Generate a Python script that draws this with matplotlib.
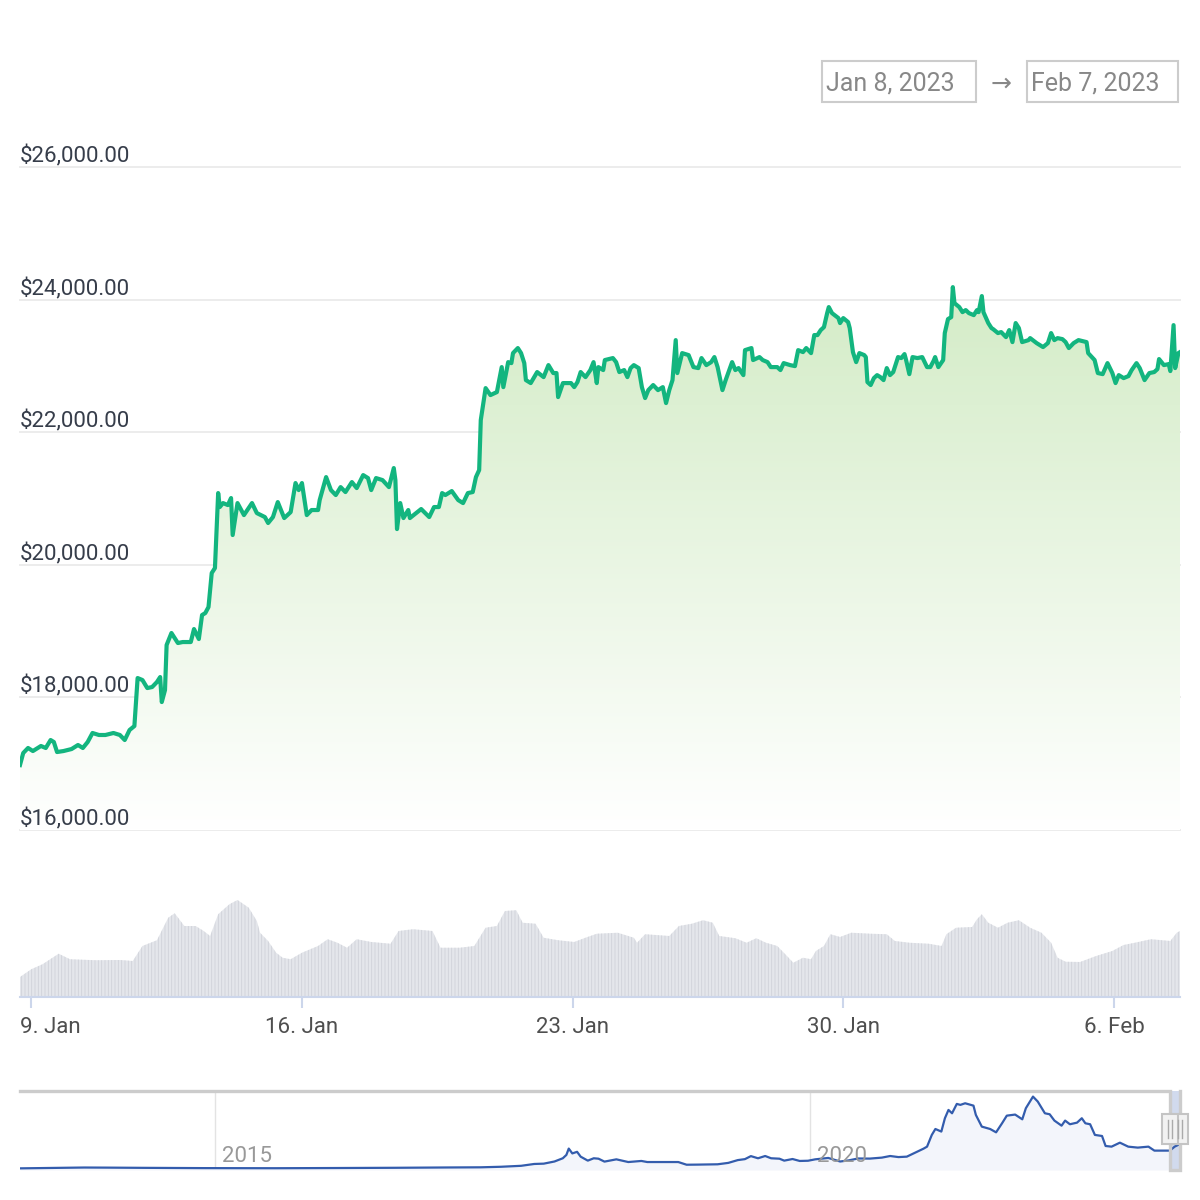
import numpy as np
import matplotlib
matplotlib.use('Agg')
import matplotlib.pyplot as plt
import matplotlib.dates as mdates
import matplotlib.transforms as mtransforms
from matplotlib.patches import Rectangle, Polygon
from datetime import datetime

plt.rcParams['font.family'] = ['Roboto', 'DejaVu Sans']
plt.rcParams['hatch.linewidth'] = 0.6

# hourly BTC price, hours counted from 2023-01-08 00:00
price_hours = [17, 19, 22, 25, 30, 33, 36, 38, 40, 44, 49, 53, 56, 59, 62, 66, 70, 75, 79, 82,
               85, 88, 90, 93, 96, 99, 102, 104, 105, 107, 108, 111, 115, 118, 123, 125, 128, 130, 132, 134,
               136, 138, 140, 141, 143, 146, 148, 149, 152, 156, 161, 164, 169, 171, 174, 177, 181, 185, 188, 190,
               192, 195, 198, 202, 203, 207, 210, 213, 216, 219, 223, 226, 230, 233, 235, 238, 242, 246, 249, 250,
               251, 253, 255, 258, 259, 266, 271, 274, 277, 279, 281, 285, 289, 292, 295, 298, 300, 302, 303, 306,
               309, 313, 316, 317, 320, 322, 323, 326, 328, 330, 331, 334, 338, 342, 345, 348, 350, 351, 354, 359,
               361, 363, 365, 368, 371, 373, 375, 376, 379, 380, 385, 387, 389, 392, 394, 396, 398, 401, 403, 405,
               407, 410, 413, 416, 418, 420, 422, 424, 425, 428, 432, 435, 438, 440, 443, 446, 448, 450, 453, 455,
               459, 461, 463, 466, 467, 471, 472, 476, 478, 481, 483, 487, 489, 491, 495, 498, 500, 503, 505, 508,
               510, 512, 514, 516, 518, 519, 521, 525, 526, 528, 531, 532, 534, 536, 538, 541, 542, 543, 545, 547,
               549, 551, 553, 555, 557, 559, 562, 564, 566, 567, 569, 571, 574, 577, 580, 582, 584, 585, 587, 590,
               591, 593, 595, 596, 597, 600, 602, 604, 606, 609, 611, 612, 614, 615, 618, 620, 621, 624, 626, 629,
               631, 633, 635, 637, 639, 643, 644, 648, 652, 655, 657, 659, 661, 664, 666, 668, 671, 674, 679, 680,
               684, 686, 689, 692, 695, 697, 699, 702, 705, 707, 710, 712, 715, 718, 721, 723, 724, 727, 730, 731,
               733, 734, 736, 737]
price = [16980, 17161, 17237, 17191, 17267, 17237, 17357, 17327, 17176, 17191, 17221, 17282, 17237, 17327, 17463, 17433, 17433, 17463, 17433, 17357,
         17508, 17568, 18292, 18262, 18141, 18156, 18232, 18307, 17930, 18111, 18790, 18971, 18820, 18835, 18835, 19031, 18880, 19242, 19272, 19363,
         19876, 19951, 21082, 20871, 20931, 20901, 21007, 20449, 20931, 20750, 20931, 20780, 20720, 20630, 20720, 20946, 20705, 20795, 21233, 21127,
         21233, 20750, 20826, 20826, 20976, 21323, 21127, 21052, 21172, 21097, 21248, 21157, 21353, 21308, 21127, 21308, 21278, 21172, 21459, 21278,
         20539, 20931, 20705, 20826, 20705, 20841, 20720, 20871, 20871, 21082, 21052, 21112, 20976, 20931, 21082, 21097, 21323, 21429, 22183, 22665,
         22560, 22605, 22982, 22680, 23057, 23042, 23193, 23269, 23193, 23042, 22786, 22741, 22907, 22831, 23012, 22892, 22892, 22530, 22741, 22741,
         22680, 22756, 22907, 22831, 22937, 23057, 22741, 22982, 22937, 23088, 23118, 23057, 22907, 22937, 22831, 22967, 23012, 22967, 22680, 22515,
         22635, 22711, 22635, 22680, 22439, 22635, 22786, 23389, 22892, 23193, 23163, 22982, 22967, 23118, 23012, 23057, 23133, 22982, 22635, 22786,
         23057, 22937, 22967, 22861, 23238, 23269, 23088, 23133, 23088, 23057, 22982, 22982, 22937, 23042, 23012, 22997, 23238, 23208, 23269, 23193,
         23465, 23465, 23540, 23585, 23796, 23887, 23796, 23721, 23646, 23721, 23661, 23570, 23208, 23057, 23193, 23163, 23133, 22756, 22711, 22816,
         22861, 22831, 22786, 22967, 22861, 22907, 23133, 23118, 23178, 23088, 22876, 23133, 23118, 23133, 22982, 22982, 23073, 23133, 22982, 23088,
         23495, 23706, 23736, 24188, 23947, 23887, 23811, 23842, 23796, 23766, 23842, 23811, 24053, 23811, 23646, 23570, 23555, 23495, 23510, 23434,
         23540, 23359, 23646, 23570, 23359, 23389, 23419, 23344, 23284, 23344, 23495, 23389, 23419, 23404, 23359, 23269, 23344, 23389, 23359, 23193,
         23088, 22892, 22876, 23042, 22892, 22741, 22861, 22816, 22846, 22937, 23042, 22967, 22786, 22892, 22907, 22952, 23103, 23012, 23027, 22922,
         23615, 22967, 23193, 23208]

# 24h volume (billion USD)
vol_hours = [17, 24, 31, 41, 48, 64, 79, 87, 93, 102, 109, 113, 119, 126, 131, 135, 140, 147, 152, 159,
             164, 166, 171, 176, 180, 185, 192, 202, 208, 214, 220, 226, 235, 247, 252, 261, 273, 278, 290, 299,
             306, 313, 318, 325, 329, 337, 342, 351, 361, 368, 375, 388, 398, 400, 405, 420, 426, 434, 441, 447,
             451, 461, 468, 474, 480, 487, 492, 497, 503, 508, 511, 516, 520, 526, 533, 545, 555, 560, 569, 581,
             589, 592, 598, 608, 611, 614, 618, 624, 630, 637, 644, 651, 657, 661, 666, 675, 685, 695, 702, 709,
             719, 731, 735, 737]
volume = [8.0, 11.1, 13.1, 17.3, 15.1, 14.7, 14.8, 14.4, 20.4, 22.7, 31.7, 33.5, 28.4, 28.4, 26.4, 24.4, 33.1, 37.1, 38.8, 35.7,
          30.4, 25.7, 22.4, 17.7, 15.7, 15.1, 17.7, 20.4, 23.1, 21.7, 19.7, 23.1, 22.0, 21.3, 26.4, 27.1, 26.4, 19.7, 19.7, 20.4,
          27.7, 28.4, 34.4, 34.7, 29.7, 29.3, 23.7, 22.7, 22.0, 23.7, 25.3, 25.7, 23.7, 21.7, 25.1, 24.4, 28.4, 29.3, 30.7, 29.7,
          24.4, 23.5, 21.7, 23.5, 21.7, 20.4, 17.1, 13.7, 15.7, 15.1, 18.4, 20.4, 25.1, 24.0, 25.7, 25.3, 25.1, 22.4, 21.7, 21.3,
          20.4, 25.1, 27.7, 28.0, 31.1, 33.1, 29.7, 27.7, 29.7, 30.7, 27.7, 25.7, 21.7, 15.7, 14.1, 14.0, 16.4, 18.4, 20.8, 21.7,
          23.1, 22.4, 25.7, 26.4]

# navigator: full history (decimal year, USD)
nav_year = [2013.36, 2013.9, 2014.1, 2014.4, 2014.9, 2015.5, 2016.0, 2016.5, 2016.95, 2017.23,
            2017.40, 2017.57, 2017.68, 2017.76, 2017.85, 2017.92, 2017.95, 2017.97, 2018.00, 2018.04,
            2018.07, 2018.13, 2018.18, 2018.22, 2018.27, 2018.37, 2018.47, 2018.58, 2018.63, 2018.89,
            2018.96, 2019.05, 2019.22, 2019.31, 2019.39, 2019.45, 2019.50, 2019.56, 2019.62, 2019.67,
            2019.74, 2019.78, 2019.85, 2019.91, 2019.98, 2020.04, 2020.15, 2020.25, 2020.32, 2020.40,
            2020.50, 2020.60, 2020.67, 2020.74, 2020.81, 2020.88, 2020.95, 2020.98, 2021.02, 2021.05,
            2021.10, 2021.13, 2021.16, 2021.19, 2021.23, 2021.26, 2021.30, 2021.37, 2021.39, 2021.44,
            2021.51, 2021.56, 2021.61, 2021.65, 2021.72, 2021.78, 2021.81, 2021.87, 2021.91, 2021.97,
            2022.01, 2022.05, 2022.11, 2022.14, 2022.18, 2022.24, 2022.28, 2022.31, 2022.35, 2022.39,
            2022.45, 2022.48, 2022.53, 2022.60, 2022.67, 2022.75, 2022.84, 2022.89, 2022.98, 2023.02,
            2023.06, 2023.09, 2023.105]
nav_price = [130, 900, 800, 600, 350, 250, 430, 650, 950, 1100,
             1600, 2500, 4200, 4500, 6500, 9500, 12600, 18500, 14000, 15500,
             11000, 7300, 9500, 9100, 6400, 8500, 6000, 7000, 6000, 6000,
             3500, 3600, 3900, 5200, 7800, 8700, 11500, 9500, 11600, 9500,
             9100, 7300, 8800, 7000, 7200, 8500, 9800, 6500, 7500, 9300,
             9200, 10100, 11600, 10600, 11000, 14700, 18400, 20300, 31200, 36700,
             34300, 46700, 54400, 51300, 60000, 59100, 60600, 58400, 49800, 38900,
             36700, 33600, 42000, 49100, 50100, 45700, 56000, 66800, 62200, 51300,
             50400, 44500, 39800, 44500, 41100, 42600, 46700, 42000, 41100, 31200,
             30200, 20900, 20300, 24000, 20300, 19400, 20300, 16600, 16600, 16600,
             20300, 21900, 23000]

price_ticks = [16000, 18000, 20000, 22000, 24000, 26000]
date_ticks = [datetime(2023, 1, 9), datetime(2023, 1, 16), datetime(2023, 1, 23),
              datetime(2023, 1, 30), datetime(2023, 2, 6)]
nav_ticks = [2015, 2020]
range_from, range_to = 'Jan 8, 2023', 'Feb 7, 2023'

W = H = 1200


def box(x0, y0, x1, y1):
    # pixel box (top-left origin) -> figure fraction rect
    return [x0 / W, 1 - y1 / H, (x1 - x0) / W, (y1 - y0) / H]


fig = plt.figure(figsize=(12, 12), dpi=100)

base = mdates.date2num(datetime(2023, 1, 8))
xp = base + np.array(price_hours) / 24.0
xv = base + np.array(vol_hours) / 24.0
xt = mdates.date2num(date_ticks)

# ---- price pane
ax = fig.add_axes(box(20, 167, 1180, 830))
ax.set_axis_off()
pmax = max(price)
top = np.array([0.83, 0.925, 0.78])
g = np.linspace(0, 1, 256)[:, None, None]
grad = 1 - g * (1 - top)[None, None, :]
img = ax.imshow(grad, extent=[xp[0], xp[-1], price_ticks[0], pmax],
                origin='lower', aspect='auto', zorder=1, interpolation='bilinear')
verts = list(zip(xp, price)) + [(xp[-1], price_ticks[0]), (xp[0], price_ticks[0])]
clip = Polygon(verts, closed=True, facecolor='none', edgecolor='none', transform=ax.transData)
ax.add_patch(clip)
img.set_clip_path(clip)
ax.plot(xp, price, color='#13b57f', lw=3.0, solid_joinstyle='round', zorder=3)
ax.set_xlim(xp[0], xp[-1])
ax.set_ylim(price_ticks[0], price_ticks[-1])
lbl_tr = mtransforms.offset_copy(ax.get_yaxis_transform(), fig=fig, y=4.5, units='dots')
for v in price_ticks:
    ax.axhline(v, color='#ececec', lw=1.4, zorder=0.5, clip_on=False)
    ax.text(0, v, f'${v:,.2f}', transform=lbl_tr, ha='left', va='baseline',
            fontsize=16, color='#363d4a')

# ---- volume pane
axv = fig.add_axes(box(20, 850, 1180, 997))
axv.fill_between(xv, volume, 0, facecolor='#e4e6eb', edgecolor='#cfd2d9',
                 hatch='|||||', linewidth=0)
axv.set_xlim(xp[0], xp[-1])
axv.set_ylim(0, 58.8)
for s in ['top', 'left', 'right']:
    axv.spines[s].set_visible(False)
axv.spines['bottom'].set_color('#ccd6eb')
axv.spines['bottom'].set_linewidth(1.5)
axv.set_yticks([])
axv.set_xticks(xt)
axv.set_xticklabels([])
axv.tick_params(axis='x', length=8, width=1.5, color='#ccd6eb')
axv.set_facecolor('none')
tick_tr = mtransforms.offset_copy(axv.get_xaxis_transform(), fig=fig, y=-36, units='dots')
for i, (d, x) in enumerate(zip(date_ticks, xt)):
    lab = f'{d.day}. {d.strftime("%b")}'
    if i == 0:
        axv.text(0, 0, lab, transform=mtransforms.offset_copy(axv.transAxes, fig=fig, y=-36, units='dots'),
                 ha='left', va='baseline', fontsize=16, color='#4f4f4f')
    else:
        axv.text(x, 0, lab, transform=tick_tr, ha='center', va='baseline', fontsize=16, color='#4f4f4f')

# ---- navigator
axn = fig.add_axes(box(20, 1091, 1180, 1170))
axn.set_xlim(2013.36, nav_year[-1])
axn.set_ylim(-1400, 72000)
axn.set_axis_off()
axn.fill_between(nav_year, nav_price, -1400, color='#f3f5fb', lw=0, zorder=1)
for yr in nav_ticks:
    axn.axvline(yr, color='#e3e3e3', lw=1, zorder=0.5)
    axn.text(yr, 0, str(yr), transform=mtransforms.offset_copy(axn.get_xaxis_transform(), fig=fig,
                                                                  x=7, y=8, units='dots'),
             ha='left', va='baseline', fontsize=16, color='#999999', zorder=4)
sel0 = 2023 + 7.7 / 365
sel1 = nav_year[-1]
axn.axvspan(sel0, sel1, color='#d1daed', lw=0, zorder=1.5)
axn.plot(nav_year, nav_price, color='#335cad', lw=1.6, zorder=3)
ox = [2013.36, sel0, sel0, sel1, sel1]
oy = [72000, 72000, -1400, -1400, 72000]
axn.plot(ox, oy, color='#cccccc', lw=2.4, zorder=4, clip_on=False, solid_joinstyle='miter')

fig.canvas.draw()
for edge in (sel1, sel0):
    px = axn.transData.transform((edge, 0))[0]
    cy = H - (1114 + 1144) / 2
    handle = Rectangle(((px - 8) / W, (cy - 15) / H), 16 / W, 30 / H, transform=fig.transFigure,
                       facecolor='#f2f2f2', edgecolor='#c4c4c4', lw=1.5, zorder=10)
    fig.add_artist(handle)
    for dx in (-1.8, 1.8):
        fig.add_artist(plt.Line2D([(px + dx) / W] * 2, [(cy - 9) / H, (cy + 9) / H],
                                  transform=fig.transFigure, color='#aaaaaa', lw=1, zorder=11))

# ---- range boxes
for (x0, x1), txt in [((822, 976), range_from), ((1027, 1178), range_to)]:
    fig.add_artist(Rectangle((box(x0, 61, x1, 102)[0], box(x0, 61, x1, 102)[1]),
                             (x1 - x0) / W, 41 / H, transform=fig.transFigure,
                             facecolor='none', edgecolor='#cccccc', lw=1.5))
    fig.text((x0 + 4) / W, 1 - 91 / H, txt, ha='left', va='baseline', fontsize=18, color='#888888')
fig.text(1001 / W, 1 - 91 / H, '\u2192', ha='center', va='baseline', fontsize=18, color='#888888',
         family=['DejaVu Sans'])

fig.savefig('out.png', dpi=100)
